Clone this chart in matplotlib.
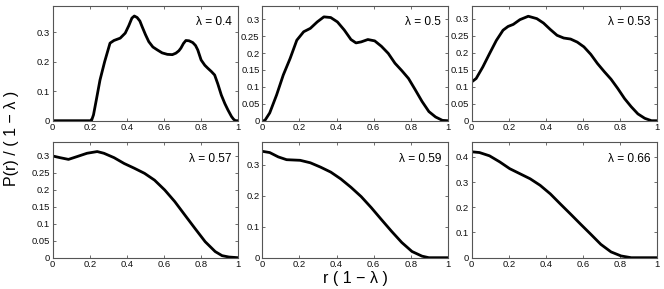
import matplotlib
matplotlib.use("Agg")
import matplotlib.pyplot as plt
from matplotlib.ticker import FuncFormatter, MultipleLocator

plt.rcParams['font.family'] = ['Liberation Sans', 'DejaVu Sans']

lambdas = ["0.4", "0.5", "0.53", "0.57", "0.59", "0.66"]

x1 = [0.0, 0.1, 0.2, 0.209, 0.22, 0.235, 0.255, 0.28, 0.309, 0.33, 0.364, 0.391, 0.41, 0.427, 0.44,
      0.455, 0.47, 0.482, 0.5, 0.518, 0.54, 0.564, 0.59, 0.618, 0.645,
      0.664, 0.68, 0.691, 0.705, 0.718, 0.735, 0.755, 0.77, 0.782, 0.8, 0.82, 0.836, 0.855, 0.873,
      0.89, 0.909, 0.928, 0.945, 0.964, 0.975, 0.985, 1.0]
y1 = [0.0, 0.0, 0.0, 0.0, 0.02, 0.07, 0.138, 0.2, 0.263, 0.272, 0.28, 0.297, 0.322, 0.348, 0.355,
      0.35, 0.338, 0.319, 0.292, 0.268, 0.25, 0.24, 0.23, 0.225, 0.224,
      0.229, 0.237, 0.246, 0.262, 0.272, 0.271, 0.265, 0.255, 0.24, 0.206, 0.188, 0.178, 0.167, 0.155,
      0.125, 0.087, 0.058, 0.036, 0.014, 0.005, 0.0, 0.0]

x2 = [0.0, 0.013, 0.04, 0.077, 0.113, 0.15, 0.186, 0.223, 0.259, 0.296, 0.332, 0.369, 0.405, 0.442,
      0.478, 0.505, 0.533, 0.569, 0.606, 0.642, 0.679, 0.715, 0.752, 0.788, 0.825, 0.861, 0.898,
      0.934, 0.971, 1.0]
y2 = [0.0, 0.0, 0.023, 0.076, 0.135, 0.184, 0.238, 0.263, 0.273, 0.292, 0.307, 0.305, 0.292, 0.268,
      0.24, 0.23, 0.233, 0.24, 0.236, 0.22, 0.199, 0.17, 0.148, 0.125, 0.091, 0.057, 0.027,
      0.011, 0.001, 0.0]

x3 = [0.0, 0.024, 0.06, 0.096, 0.133, 0.169, 0.196, 0.224, 0.26, 0.305, 0.351, 0.387, 0.424, 0.46,
      0.496, 0.533, 0.569, 0.605, 0.642, 0.678, 0.715, 0.751, 0.787, 0.824, 0.86, 0.896, 0.933,
      0.969, 1.0]
y3 = [0.114, 0.124, 0.158, 0.197, 0.236, 0.266, 0.277, 0.283, 0.297, 0.307, 0.3, 0.287, 0.268, 0.251,
      0.243, 0.24, 0.231, 0.217, 0.195, 0.168, 0.144, 0.122, 0.095, 0.065, 0.041, 0.02, 0.007,
      0.0, 0.0]

x4 = [0.0, 0.04, 0.085, 0.13, 0.185, 0.24, 0.276, 0.331, 0.385, 0.44, 0.495, 0.549, 0.604, 0.658,
      0.713, 0.767, 0.822, 0.876, 0.913, 0.95, 1.0]
y4 = [0.299, 0.294, 0.289, 0.297, 0.307, 0.312, 0.307, 0.294, 0.277, 0.263, 0.248, 0.228, 0.199, 0.165,
      0.125, 0.086, 0.047, 0.018, 0.006, 0.002, 0.0]

x5 = [0.0, 0.04, 0.086, 0.131, 0.204, 0.259, 0.314, 0.369, 0.423, 0.478, 0.533, 0.588, 0.642, 0.697,
      0.752, 0.807, 0.861, 0.898, 1.0]
y5 = [0.343, 0.339, 0.325, 0.316, 0.314, 0.306, 0.292, 0.276, 0.254, 0.227, 0.197, 0.161, 0.123, 0.085,
      0.049, 0.02, 0.005, 0.0, 0.0]

x6 = [0.0, 0.042, 0.096, 0.151, 0.205, 0.26, 0.315, 0.369, 0.424, 0.478, 0.533, 0.587, 0.642, 0.696,
      0.751, 0.805, 0.86, 1.0]
y6 = [0.42, 0.417, 0.404, 0.38, 0.353, 0.333, 0.313, 0.287, 0.253, 0.213, 0.173, 0.133, 0.093, 0.053,
      0.023, 0.007, 0.0, 0.0]

series = [(x1, y1), (x2, y2), (x3, y3), (x4, y4), (x5, y5), (x6, y6)]
ytops = [0.39, 0.34, 0.338, 0.341, 0.374, 0.46]
ysteps = [0.1, 0.05, 0.05, 0.05, 0.1, 0.1]

W, H = 664, 289
fig = plt.figure(figsize=(W / 100, H / 100), dpi=100)

lefts = [52.7, 262.3, 471.7]
rows = [(5.7, 120.7), (141.7, 257.7)]
aw = 185.5

fmt = FuncFormatter(lambda v, p: ("%g" % round(v, 4)))

axes = []
for i in range(6):
    r, c = divmod(i, 3)
    top, bot = rows[r]
    ax = fig.add_axes([lefts[c] / W, (H - bot) / H, aw / W, (bot - top) / H])
    x, y = series[i]
    ax.plot(x, y, color='black', lw=2.0, solid_joinstyle='round', solid_capstyle='round')
    ax.set_xlim(0, 1)
    ax.set_ylim(0, ytops[i])
    ax.xaxis.set_major_locator(MultipleLocator(0.2))
    ax.yaxis.set_major_locator(MultipleLocator(ysteps[i]))
    ax.xaxis.set_major_formatter(fmt)
    ax.yaxis.set_major_formatter(fmt)
    ax.tick_params(direction='in', length=2.5, width=0.6, labelsize=6.8, pad=2,
                   top=True, right=True, colors='#555555', labelcolor='#111111')
    for s in ax.spines.values():
        s.set_linewidth(0.8)
        s.set_color('#555555')
    ax.text(0.965, 0.855, "λ = " + lambdas[i], transform=ax.transAxes,
            ha='right', va='center', fontsize=8.6)
    axes.append(ax)

fig.text(12 / W, (H - 138) / H, "P(r) / ( 1 − λ )", rotation=90, ha='center', va='center',
         fontsize=11.5)
fig.text((262.3 + aw / 2) / W, (H - 278) / H, "r ( 1 − λ )", ha='center', va='center',
         fontsize=11.5)

fig.savefig("out.png", dpi=100)
